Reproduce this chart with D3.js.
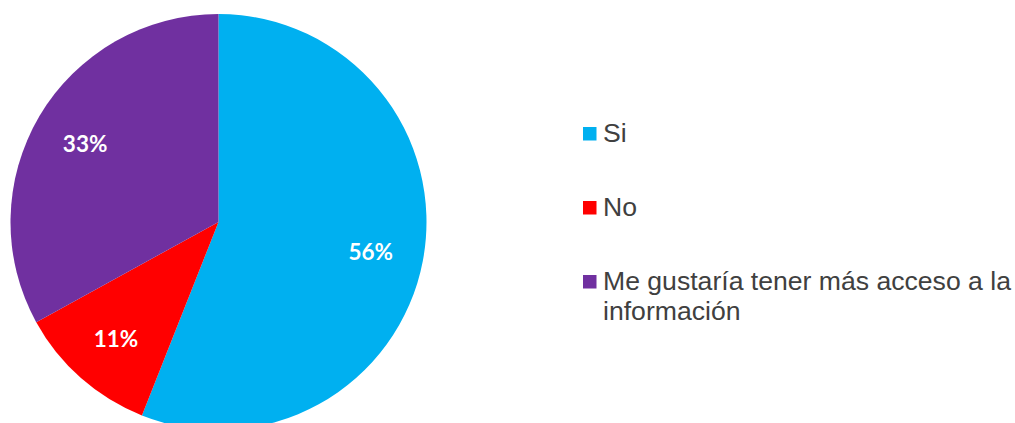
<!DOCTYPE html>
<html>
<head>
<meta charset="utf-8">
<script src="https://cdn.jsdelivr.net/npm/d3@7"></script>
<style>
  html, body { margin: 0; padding: 0; background: #ffffff; }
  svg { display: block; }
</style>
</head>
<body>
<svg id="chart" width="1015" height="423"></svg>
<script>
// Survey answers and their shares (percent)
const categories = ["Si", "No", "Me gustaría tener más acceso a la información"];
const values = [56, 11, 33];
const colors = ["#00B0F0", "#FF0000", "#7030A0"];

const width = 1015, height = 423;
const cx = 218.5, cy = 222, radius = 208;

const svg = d3.select("#chart");

const pie = d3.pie().sort(null).value(d => d.value);
const arcs = pie(categories.map((c, i) => ({ name: c, value: values[i], color: colors[i] })));

const arc = d3.arc().innerRadius(0).outerRadius(radius);
const labelArc = d3.arc().innerRadius(radius * 0.745).outerRadius(radius * 0.745);

const g = svg.append("g").attr("transform", `translate(${cx},${cy})`);

g.selectAll("path.slice")
  .data(arcs)
  .join("path")
  .attr("class", "slice")
  .attr("d", arc)
  .attr("fill", d => d.data.color);

g.selectAll("text.pct")
  .data(arcs)
  .join("text")
  .attr("class", "pct")
  .attr("transform", d => `translate(${labelArc.centroid(d)})`)
  .attr("text-anchor", "middle")
  .attr("dominant-baseline", "central")
  .attr("fill", "#ffffff")
  .style("font-family", "Lato, 'Open Sans', sans-serif")
  .style("font-weight", "700")
  .style("font-size", "22.5px")
  .text(d => d.data.value + "%");

// Legend on the right, one entry per answer
const legendX = 583, legendY0 = 127, legendStep = 74, sw = 13.5;
const maxLineWidth = 425;

const legend = svg.append("g").attr("class", "legend");
const items = legend.selectAll("g.item")
  .data(arcs)
  .join("g")
  .attr("class", "item")
  .attr("transform", (d, i) => `translate(${legendX},${legendY0 + i * legendStep})`);

items.append("rect")
  .attr("width", sw)
  .attr("height", sw)
  .attr("fill", d => d.data.color);

items.append("text")
  .attr("x", 20)
  .attr("y", 14.5)
  .attr("fill", "#404040")
  .style("font-family", "'Liberation Sans', Arial, sans-serif")
  .style("font-size", "26.6px")
  .each(function(d) {
    // wrap long labels onto extra lines
    const text = d3.select(this);
    const words = d.data.name.split(" ");
    let line = [];
    let tspan = text.append("tspan").attr("x", 20).attr("dy", 0);
    words.forEach(w => {
      line.push(w);
      tspan.text(line.join(" "));
      if (tspan.node().getComputedTextLength() > maxLineWidth && line.length > 1) {
        line.pop();
        tspan.text(line.join(" "));
        line = [w];
        tspan = text.append("tspan").attr("x", 20).attr("dy", 30.5).text(w);
      }
    });
  });
</script>
</body>
</html>
